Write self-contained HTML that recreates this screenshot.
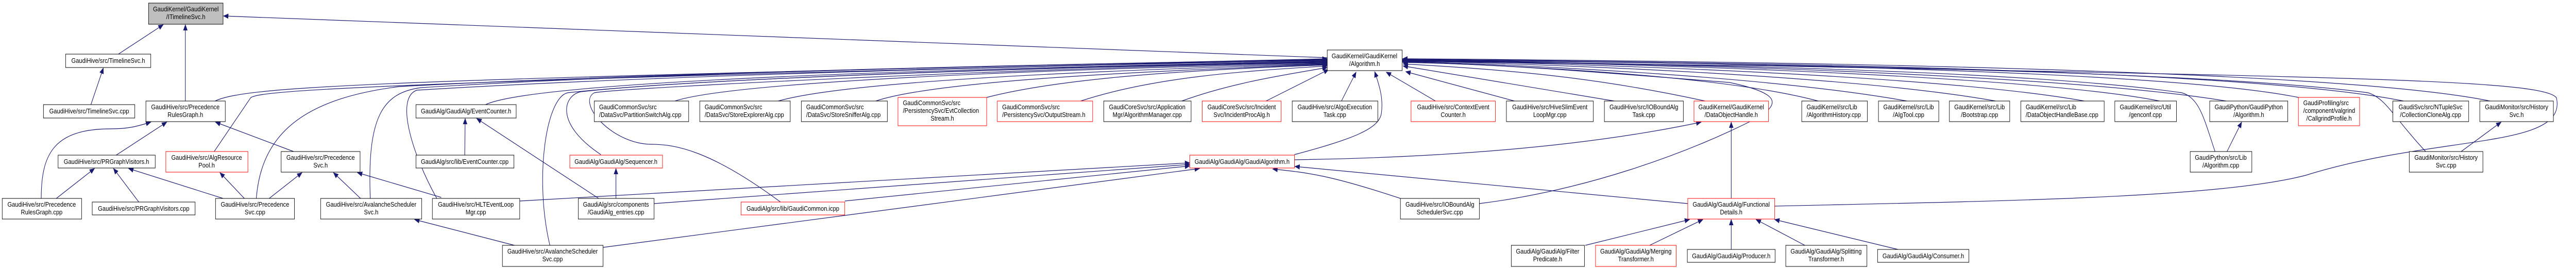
<!DOCTYPE html>
<html><head><meta charset="utf-8"><style>
html,body{margin:0;padding:0;background:#fff;overflow:hidden;width:100%;height:100%;}
svg{display:block;width:100vw;height:100vh;}
text{font-family:"Liberation Sans",Arial,sans-serif;font-size:13px;fill:#000;}
.e{fill:none;stroke:#191970;stroke-width:1.2;}
.n{fill:#fff;stroke:#000;stroke-width:1;}
.r{fill:#fff;stroke:#ff0000;stroke-width:1;}
.g{fill:#bfbfbf;stroke:#000;stroke-width:1;}
</style></head><body>
<svg width="5809" height="520" viewBox="0 0 5809 520" preserveAspectRatio="none" xmlns="http://www.w3.org/2000/svg">
<defs>
<marker id="a" markerWidth="12" markerHeight="10" refX="11" refY="5" orient="auto" markerUnits="userSpaceOnUse">
<polygon points="0,0 12,5 0,10" fill="#191970"/>
</marker>
</defs>
<g marker-end="url(#a)">
<path class="e" d="M267,105 L368,48"/>
<path class="e" d="M418,196 L418,48"/>
<path class="e" d="M2993,112 L504,31"/>
<path class="e" d="M205,203 L233,132"/>
<path class="e" d="M93,385 C93,300 120,250 250,250 C290,250 310,245 340,237"/>
<path class="e" d="M262,301 L376,237"/>
<path class="e" d="M662,294 L486,237"/>
<path class="e" d="M127,385 L213,327"/>
<path class="e" d="M313,392 L256,327"/>
<path class="e" d="M503,385 L290,327"/>
<path class="e" d="M551,385 L496,335"/>
<path class="e" d="M607,385 L681,335"/>
<path class="e" d="M813,385 L752,335"/>
<path class="e" d="M995,383 L806,335"/>
<path class="e" d="M1160,476 L935,426"/>
<path class="e" d="M1048,301 L1049,230"/>
<path class="e" d="M1350,385 L1075,230"/>
<path class="e" d="M1389,385 L1389,327"/>
<path class="e" d="M1172,390 L2683,316"/>
<path class="e" d="M1475,395 L2683,319"/>
<path class="e" d="M1905,390 L2683,322"/>
<path class="e" d="M1360,480 L2705,327"/>
<path class="e" d="M3158,385 C3000,340 2950,335 2870,328"/>
<path class="e" d="M3806,395 L2920,323"/>
<path class="e" d="M2919,300 C3050,270 3110,250 3115,220 C3120,190 3110,165 3100,139"/>
<path class="e" d="M2919,310 C3300,305 3600,280 3836,237"/>
<path class="e" d="M3904,385 L3904,237"/>
<path class="e" d="M3575,476 L3810,426"/>
<path class="e" d="M3720,476 L3840,426"/>
<path class="e" d="M3904,484 L3904,426"/>
<path class="e" d="M4070,476 L3960,426"/>
<path class="e" d="M4280,484 L4002,426"/>
<path class="e" d="M485,196 C560,165 900,155 2993,114"/>
<path class="e" d="M483,294 L565,190 C580,176 800,160 2993,115"/>
<path class="e" d="M578,385 C590,250 700,190 900,168 C1500,140 2500,122 2993,116"/>
<path class="e" d="M835,385 C828,230 860,180 950,170 C1500,140 2500,122 2993,117"/>
<path class="e" d="M985,385 C930,300 890,190 940,175 C1500,145 2500,124 2993,118"/>
<path class="e" d="M1095,203 C1200,160 2000,135 2993,119"/>
<path class="e" d="M1240,476 C1205,350 1230,190 1280,180 C1600,150 2500,126 2993,120"/>
<path class="e" d="M1355,300 C1250,240 1270,185 1310,178 C1600,150 2500,127 2993,121"/>
<path class="e" d="M1760,392 C1600,290 1520,280 1470,280 C1380,280 1300,200 1340,180 C1400,170 2400,128 2993,122"/>
<path class="e" d="M1522,196 C1650,160 2300,135 2993,123"/>
<path class="e" d="M1755,196 C1900,160 2400,138 2993,124"/>
<path class="e" d="M1975,196 C2100,160 2500,140 2993,125"/>
<path class="e" d="M2225,189 C2400,150 2700,135 2993,126"/>
<path class="e" d="M2437,196 C2600,150 2800,138 2993,128"/>
<path class="e" d="M2665,196 C2780,160 2900,145 2993,131"/>
<path class="e" d="M2855,196 L2996,135"/>
<path class="e" d="M3025,196 L3058,140"/>
<path class="e" d="M3237,196 L3126,140"/>
<path class="e" d="M3415,196 L3170,139"/>
<path class="e" d="M3640,196 L3164,128"/>
<path class="e" d="M3845,196 C3600,150 3400,135 3164,124"/>
<path class="e" d="M3336,395 C3570,370 3800,300 3960,230 C4020,200 4010,180 3900,160 C3600,140 3400,125 3163,121"/>
<path class="e" d="M4100,196 C3900,150 3500,130 3163,120"/>
<path class="e" d="M4300,196 C4000,150 3500,128 3163,119"/>
<path class="e" d="M4500,196 C4200,150 3600,127 3163,118"/>
<path class="e" d="M4700,196 C4400,150 3700,126 3163,117"/>
<path class="e" d="M4870,196 C4600,150 3800,125 3163,116"/>
<path class="e" d="M4995,294 C4970,230 4960,190 4920,180 C4600,140 3900,124 3163,118"/>
<path class="e" d="M5020,196 C4700,150 3900,124 3163,117"/>
<path class="e" d="M5183,189 C4900,140 4000,122 3163,116"/>
<path class="e" d="M5470,294 C5400,230 5380,190 5340,180 C5000,140 4000,122 3163,117"/>
<path class="e" d="M5420,196 C5100,140 4100,121 3163,115"/>
<path class="e" d="M5615,196 C5300,140 4200,120 3163,114"/>
<path class="e" d="M4002,400 C4500,390 5000,385 5200,340 C5500,260 5790,290 5765,190 C5740,155 5300,150 4000,128 L3163,119"/>
<path class="e" d="M5022,294 L5055,237"/>
<path class="e" d="M5550,294 L5640,237"/>
</g>
<rect class="g" x="335" y="6" width="168" height="41"/>
<text x="419" y="22" text-anchor="middle">GaudiKernel/GaudiKernel</text>
<text x="419" y="37" text-anchor="middle">/ITimelineSvc.h</text>
<rect class="n" x="2993" y="97" width="169" height="40"/>
<text x="3077" y="113" text-anchor="middle">GaudiKernel/GaudiKernel</text>
<text x="3077" y="128" text-anchor="middle">/Algorithm.h</text>
<rect class="n" x="148" y="105" width="192" height="26"/>
<text x="244" y="122" text-anchor="middle">GaudiHive/src/TimelineSvc.h</text>

<rect class="n" x="98" y="203" width="206" height="26"/><text x="201" y="220" text-anchor="middle">GaudiHive/src/TimelineSvc.cpp</text>
<rect class="n" x="329" y="196" width="179" height="40"/><text x="418" y="212" text-anchor="middle">GaudiHive/src/Precedence</text><text x="418" y="227" text-anchor="middle">RulesGraph.h</text>
<rect class="n" x="938" y="203" width="226" height="26"/><text x="1051" y="220" text-anchor="middle">GaudiAlg/GaudiAlg/EventCounter.h</text>
<rect class="n" x="1340" y="196" width="213" height="40"/><text x="1351" y="212">GaudiCommonSvc/src</text><text x="1351" y="227">/DataSvc/PartitionSwitchAlg.cpp</text>
<rect class="n" x="1578" y="196" width="204" height="40"/><text x="1589" y="212">GaudiCommonSvc/src</text><text x="1589" y="227">/DataSvc/StoreExplorerAlg.cpp</text>
<rect class="n" x="1807" y="196" width="194" height="40"/><text x="1818" y="212">GaudiCommonSvc/src</text><text x="1818" y="227">/DataSvc/StoreSnifferAlg.cpp</text>
<rect class="r" x="2025" y="189" width="200" height="55"/><text x="2036" y="204">GaudiCommonSvc/src</text><text x="2036" y="219">/PersistencySvc/EvtCollection</text><text x="2125" y="234" text-anchor="middle">Stream.h</text>
<rect class="r" x="2249" y="196" width="215" height="40"/><text x="2260" y="212">GaudiCommonSvc/src</text><text x="2260" y="227">/PersistencySvc/OutputStream.h</text>
<rect class="n" x="2489" y="196" width="197" height="40"/><text x="2587" y="212" text-anchor="middle">GaudiCoreSvc/src/Application</text><text x="2587" y="227" text-anchor="middle">Mgr/AlgorithmManager.cpp</text>
<rect class="r" x="2711" y="196" width="178" height="40"/><text x="2800" y="212" text-anchor="middle">GaudiCoreSvc/src/Incident</text><text x="2800" y="227" text-anchor="middle">Svc/IncidentProcAlg.h</text>
<rect class="n" x="2914" y="196" width="193" height="40"/><text x="3010" y="212" text-anchor="middle">GaudiHive/src/AlgoExecution</text><text x="3010" y="227" text-anchor="middle">Task.cpp</text>
<rect class="r" x="3182" y="196" width="190" height="40"/><text x="3277" y="212" text-anchor="middle">GaudiHive/src/ContextEvent</text><text x="3277" y="227" text-anchor="middle">Counter.h</text>
<rect class="n" x="3397" y="196" width="196" height="40"/><text x="3495" y="212" text-anchor="middle">GaudiHive/src/HiveSlimEvent</text><text x="3495" y="227" text-anchor="middle">LoopMgr.cpp</text>
<rect class="n" x="3618" y="196" width="178" height="40"/><text x="3707" y="212" text-anchor="middle">GaudiHive/src/IOBoundAlg</text><text x="3707" y="227" text-anchor="middle">Task.cpp</text>
<rect class="r" x="3820" y="196" width="168" height="40"/><text x="3904" y="212" text-anchor="middle">GaudiKernel/GaudiKernel</text><text x="3904" y="227" text-anchor="middle">/DataObjectHandle.h</text>
<rect class="n" x="4063" y="196" width="148" height="40"/><text x="4074" y="212">GaudiKernel/src/Lib</text><text x="4074" y="227">/AlgorithmHistory.cpp</text>
<rect class="n" x="4236" y="196" width="136" height="40"/><text x="4304" y="212" text-anchor="middle">GaudiKernel/src/Lib</text><text x="4304" y="227" text-anchor="middle">/AlgTool.cpp</text>
<rect class="n" x="4396" y="196" width="136" height="40"/><text x="4464" y="212" text-anchor="middle">GaudiKernel/src/Lib</text><text x="4464" y="227" text-anchor="middle">/Bootstrap.cpp</text>
<rect class="n" x="4557" y="196" width="188" height="40"/><text x="4568" y="212">GaudiKernel/src/Lib</text><text x="4568" y="227">/DataObjectHandleBase.cpp</text>
<rect class="n" x="4769" y="196" width="139" height="40"/><text x="4838" y="212" text-anchor="middle">GaudiKernel/src/Util</text><text x="4838" y="227" text-anchor="middle">/genconf.cpp</text>
<rect class="n" x="4983" y="196" width="176" height="40"/><text x="5071" y="212" text-anchor="middle">GaudiPython/GaudiPython</text><text x="5071" y="227" text-anchor="middle">/Algorithm.h</text>
<rect class="r" x="5183" y="189" width="138" height="55"/><text x="5194" y="204">GaudiProfiling/src</text><text x="5194" y="219">/component/valgrind</text><text x="5252" y="234" text-anchor="middle">/CallgrindProfile.h</text>
<rect class="n" x="5396" y="196" width="171" height="40"/><text x="5481" y="212" text-anchor="middle">GaudiSvc/src/NTupleSvc</text><text x="5481" y="227" text-anchor="middle">/CollectionCloneAlg.cpp</text>
<rect class="n" x="5592" y="196" width="166" height="40"/><text x="5675" y="212" text-anchor="middle">GaudiMonitor/src/History</text><text x="5675" y="227" text-anchor="middle">Svc.h</text>

<rect class="n" x="131" y="301" width="219" height="25"/><text x="240" y="318" text-anchor="middle">GaudiHive/src/PRGraphVisitors.h</text>
<rect class="r" x="374" y="294" width="185" height="40"/><text x="466" y="310" text-anchor="middle">GaudiHive/src/AlgResource</text><text x="466" y="325" text-anchor="middle">Pool.h</text>
<rect class="n" x="634" y="294" width="178" height="40"/><text x="723" y="310" text-anchor="middle">GaudiHive/src/Precedence</text><text x="723" y="325" text-anchor="middle">Svc.h</text>
<rect class="n" x="938" y="301" width="221" height="25"/><text x="1048" y="318" text-anchor="middle">GaudiAlg/src/lib/EventCounter.cpp</text>
<rect class="r" x="1285" y="301" width="209" height="25"/><text x="1389" y="318" text-anchor="middle">GaudiAlg/GaudiAlg/Sequencer.h</text>
<rect class="r" x="2683" y="301" width="236" height="25"/><text x="2801" y="318" text-anchor="middle">GaudiAlg/GaudiAlg/GaudiAlgorithm.h</text>
<rect class="n" x="4939" y="294" width="139" height="40"/><text x="5008" y="310" text-anchor="middle">GaudiPython/src/Lib</text><text x="5008" y="325" text-anchor="middle">/Algorithm.cpp</text>
<rect class="n" x="5433" y="294" width="166" height="40"/><text x="5516" y="310" text-anchor="middle">GaudiMonitor/src/History</text><text x="5516" y="325" text-anchor="middle">Svc.cpp</text>

<rect class="n" x="5" y="385" width="179" height="40"/><text x="94" y="401" text-anchor="middle">GaudiHive/src/Precedence</text><text x="94" y="416" text-anchor="middle">RulesGraph.cpp</text>
<rect class="n" x="208" y="392" width="232" height="25"/><text x="324" y="409" text-anchor="middle">GaudiHive/src/PRGraphVisitors.cpp</text>
<rect class="n" x="486" y="385" width="178" height="40"/><text x="575" y="401" text-anchor="middle">GaudiHive/src/Precedence</text><text x="575" y="416" text-anchor="middle">Svc.cpp</text>
<rect class="n" x="723" y="385" width="228" height="40"/><text x="837" y="401" text-anchor="middle">GaudiHive/src/AvalancheScheduler</text><text x="837" y="416" text-anchor="middle">Svc.h</text>
<rect class="n" x="975" y="385" width="197" height="40"/><text x="1073" y="401" text-anchor="middle">GaudiHive/src/HLTEventLoop</text><text x="1073" y="416" text-anchor="middle">Mgr.cpp</text>
<rect class="n" x="1304" y="385" width="171" height="40"/><text x="1389" y="401" text-anchor="middle">GaudiAlg/src/components</text><text x="1389" y="416" text-anchor="middle">/GaudiAlg_entries.cpp</text>
<rect class="r" x="1671" y="392" width="234" height="25"/><text x="1788" y="409" text-anchor="middle">GaudiAlg/src/lib/GaudiCommon.icpp</text>
<rect class="n" x="3158" y="385" width="178" height="40"/><text x="3247" y="401" text-anchor="middle">GaudiHive/src/IOBoundAlg</text><text x="3247" y="416" text-anchor="middle">SchedulerSvc.cpp</text>
<rect class="r" x="3806" y="385" width="196" height="40"/><text x="3904" y="401" text-anchor="middle">GaudiAlg/GaudiAlg/Functional</text><text x="3904" y="416" text-anchor="middle">Details.h</text>

<rect class="n" x="1133" y="476" width="227" height="41"/><text x="1246" y="492" text-anchor="middle">GaudiHive/src/AvalancheScheduler</text><text x="1246" y="507" text-anchor="middle">Svc.cpp</text>
<rect class="n" x="3408" y="476" width="165" height="41"/><text x="3490" y="492" text-anchor="middle">GaudiAlg/GaudiAlg/Filter</text><text x="3490" y="507" text-anchor="middle">Predicate.h</text>
<rect class="r" x="3598" y="476" width="182" height="41"/><text x="3689" y="492" text-anchor="middle">GaudiAlg/GaudiAlg/Merging</text><text x="3689" y="507" text-anchor="middle">Transformer.h</text>
<rect class="n" x="3805" y="484" width="198" height="25"/><text x="3904" y="501" text-anchor="middle">GaudiAlg/GaudiAlg/Producer.h</text>
<rect class="n" x="4027" y="476" width="183" height="41"/><text x="4118" y="492" text-anchor="middle">GaudiAlg/GaudiAlg/Splitting</text><text x="4118" y="507" text-anchor="middle">Transformer.h</text>
<rect class="n" x="4234" y="484" width="206" height="25"/><text x="4337" y="501" text-anchor="middle">GaudiAlg/GaudiAlg/Consumer.h</text>
</svg>
</body></html>
